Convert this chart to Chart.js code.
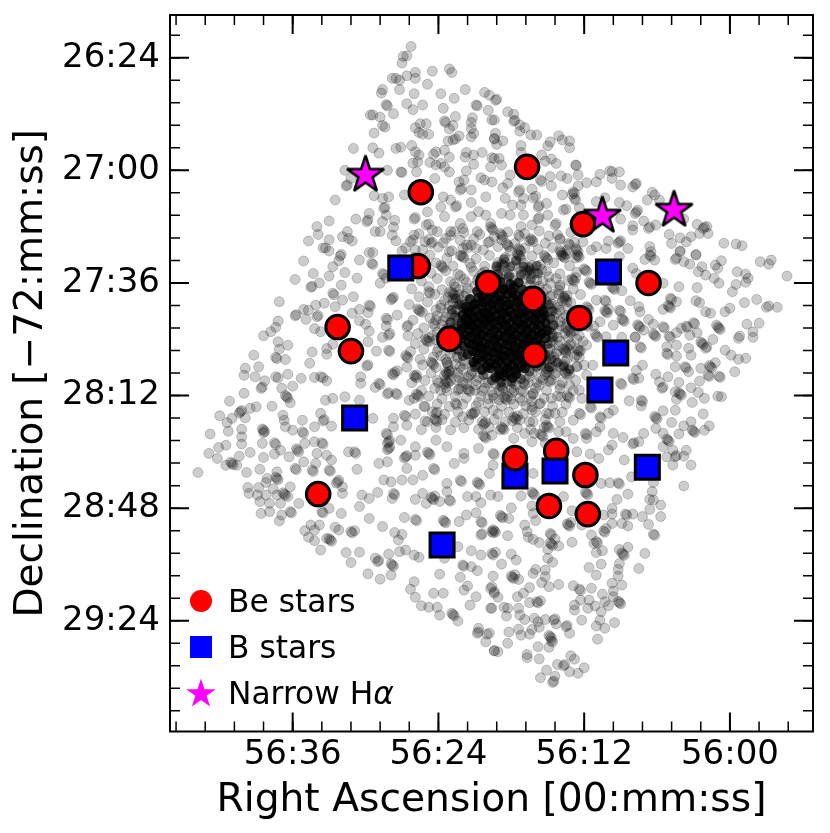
<!DOCTYPE html>
<html>
<head>
<meta charset="utf-8">
<title>Be stars</title>
<script src="https://cdn.jsdelivr.net/npm/chart.js@4/dist/chart.umd.min.js"></script>
<style>
    body { margin: 0; background: #ffffff; }
    canvas { display: block; }
</style>
</head>
<body>
<canvas id="chart" width="830" height="833"></canvas>
<script>
// x = RA seconds past 00:56:00, y = Dec seconds past -72:26:00

const xTicks = [36, 24, 12, 0];
const xTickLabels = ["56:36", "56:24", "56:12", "56:00"];
const yTicks = [24, 60, 96, 132, 168, 204];
const yTickLabels = ["26:24", "27:00", "27:36", "28:12", "28:48", "29:24"];

const beStars = [[16.7,58.9],[25.45,67],[12.1,77.2],[25.7,90.6],[19.9,96],[6.7,96],[16.2,101.1],[12.4,107.2],[32.3,110.1],[23.1,113.9],[31.2,117.8],[16.1,119],[14.3,149.7],[11.9,157.4],[33.9,163.5],[14.9,167.3],[11.7,169.9]];
const beStarsOver = [[17.7,152]];
const bStars = [[27.1,91.2],[10,92.5],[9.4,118.4],[10.7,130.2],[30.9,139.2],[6.8,154.9],[14.4,156.1],[17.7,157.7],[23.7,179.8]];
const narrowStars = [[30,61.5],[10.5,74.6],[4.6,72.7]];

const fieldNW = [[26.25,20.4],[26.6,23.4],[26.9,23.6],[27,25.7],[24.5,28.3],[23.1,27.6],[22.9,28.7],[25.9,28.7],[26.6,29.8],[25.9,30.6],[27.8,30.6],[27.5,30.6],[27.2,31.2],[24.9,32.5],[21.8,34.2],[28.6,34.2],[28.7,35.3],[27.2,34.2],[26,35.5],[23.8,35.5],[22.7,37],[20.2,35.1],[19.8,36],[28.3,39],[28.2,39.4],[26.6,38.7],[25.3,39.1],[26.1,40.6],[23.6,40.2],[20.9,39.1],[20.8,39.4],[19.9,40.8],[27.7,41.9],[29.6,42.3],[29.4,42.3],[28.8,43],[22.6,42.8],[21.2,43.2],[21.3,44.7],[23.5,44.2],[23.4,44.7],[25,45.1],[25.5,45.1],[25.9,46.4],[28.4,46.2],[28.6,45.7],[22.8,45.7],[23.1,46.8],[21.3,46.6],[29.3,48.1],[25.6,47.9],[25.3,48.5],[24.8,48.5],[22.3,49],[21.3,49.3],[22.8,50.3],[23.2,50.6],[22.6,50],[21.1,48.2],[26.2,52.1],[31,53],[29.4,52.8],[27.5,53],[27.1,52.6],[28.9,54.5],[25.9,54.1],[25.6,55.1],[24.2,54.1],[23.5,53.6],[24.4,54.9],[21.7,54.3],[21.1,55.1],[20.4,54.3],[21.8,55.8],[23.1,55.8],[25.7,57.3],[26.1,57.7],[24.7,57.5],[24.2,58.3],[23.8,57.8],[23.5,58.9],[21.1,58.1],[27.1,60.5],[27,60.7],[31.7,60],[28.2,60],[25.8,60.5],[23.1,60.5],[21.7,60.2],[31.2,62.6],[31.6,65],[31.5,64.7],[24.3,62.6],[20.5,62.4],[20.2,63.1],[22.3,63.7],[21.9,63.1],[22.2,66.3],[22.1,65.8],[21.3,66.3],[32.5,69.5],[29.3,68.1],[28.6,69],[28.1,68.5],[26.8,67.9],[23.6,68.5],[23,69.5],[21.3,70.3],[22.6,71.7],[22.5,71.3],[20.1,68.5],[24.9,73.3],[23.8,71.7],[28.5,72.2],[28.4,71.8],[28.3,74.3],[29.7,73.8],[30.8,75.6],[29.9,76.4],[29.8,75.9],[33,76.2],[34,78],[33.9,80.5],[34.7,82.6],[33,82.2],[31.5,79.6],[31.9,81.2],[31.4,81.8],[31.1,82.6],[27.6,76],[27.7,78.2],[28.6,76.4],[29.2,79.6],[28.8,79.6],[27.8,80.7],[27.5,82.6],[26,75.6],[25.9,75.1],[25,77.5],[24.8,77.2],[24.5,79.1],[23.5,74.8],[22,78.6],[22.2,77],[26,80.7],[26.1,82.3],[24.6,83.4],[24.5,83],[25.1,82.8],[23.4,81.8],[23,79.6],[22.7,79.6],[21.3,74.8],[20.7,73.2],[20.1,74.3],[19.7,77],[20.8,79.6],[19.8,82.8],[21.7,83.9],[33.5,84.8],[33.3,84.8],[33,85.8],[32,86.9],[29.7,86.3],[29.4,86.3],[26.7,84.8],[27,85.8],[25.9,85.5],[23.1,86],[22,85],[21.3,83.9],[20.9,85],[19.6,43.9],[19.4,49.8],[19.6,56]];

const fieldNE = [[19.3,37.6],[19.2,37.3],[18.3,41.3],[17.8,42.1],[19.4,43.9],[17.8,44.3],[17.7,44],[17.3,45.5],[16.9,46.4],[17.3,47.5],[19.3,48.2],[16.4,48.7],[15.9,48.7],[19.4,50],[18.7,50.6],[19.2,51.7],[14.1,49],[13.8,50.3],[13.2,50.6],[14.8,50.9],[15,52.2],[13.2,52.8],[17.2,52.1],[15.5,55.1],[17.2,54.3],[19.4,56.2],[19,56.2],[18.8,58.3],[19.7,58.9],[15.2,57.1],[14.7,56.4],[14.3,57.8],[12.7,58.3],[12.65,58.5],[12.5,61.5],[11.8,64],[10.7,61.3],[11,63.7],[9.9,60.2],[9.7,60.4],[9.1,60.5],[9.7,62.6],[9,64.7],[7.8,64.5],[7.7,64.2],[8,65.3],[18.1,61.5],[18.3,64.2],[18.7,65.6],[19.6,63.7],[15.6,63.1],[15.5,63.6],[14.8,62],[14.7,65],[13.9,61.8],[13.4,62.6],[17.4,66.9],[17.3,66.3],[16.3,66],[16.2,68.8],[16,68.3],[17,69],[18.5,69],[13.8,67.9],[12.9,66.9],[12.8,67.4],[13,67.7],[12.8,69],[12.7,69.5],[12.5,65],[6.4,67],[6.2,67.9],[5.8,69.5],[6.8,69.5],[10.3,68.8],[11,70],[9.1,70.3],[8.5,71.3],[7.7,73.3],[7.6,72.8],[7.8,73.8],[12.4,72],[13.7,72.7],[13.5,72.4],[15.1,70.6],[15.8,71.7],[15.7,71.3],[17.2,71.1],[17.9,71.1],[18.8,73.8],[18.1,74.3],[17,74.3],[15.8,75.6],[15.7,75.1],[15,74.3],[9,75.6],[7.1,76.2],[8,77.7],[8,79.1],[6.7,78.6],[6.6,78.1],[6.1,77.5],[3.8,75.6],[2.7,77.3],[2.2,78.6],[2.1,78.2],[1.9,78],[1.8,80.2],[2.5,80.2],[5,80.5],[4.1,81.6],[4.8,83.4],[3.6,82.9],[3.2,81.2],[0.5,83.3],[-0.5,83.6],[-1,84.1],[6.6,84.4],[6.5,86],[4.1,85.8],[2.8,86.9],[9.1,82.9],[9,82.5],[9.2,83.3],[8.4,85],[10,82.6],[10.2,85],[11,84.4],[11.4,85.5],[12.1,82.9],[14.9,81],[16.3,82.3],[16.2,82.8],[16.4,81.9],[18.8,80.7],[18.7,81.2],[18.9,80.2],[17.4,80.7],[17.3,81.2],[18.3,83.9],[18.2,84.4],[18.4,83.4],[17.3,85.5],[17.2,85.9],[17.4,85],[13.3,83.4],[13.2,83.8],[14,81.8],[14.4,77.5],[14.3,77],[16.3,77.5],[17.2,78],[19.6,78.6],[19.5,79.1],[19.7,78.1],[13.9,86],[13.8,86.5],[14,85.6],[12.6,85.5],[12.5,86],[12.7,85]];

const fieldW = [[35.1,89],[34.3,93],[35.8,94.9],[32.1,87.4],[32.2,88.9],[32.7,90.8],[31.7,92.7],[33,93.8],[33.8,96],[34.5,97.4],[34.4,97.1],[32,96.7],[30.5,88.7],[30.7,94.5],[32.7,99.3],[32.6,99.8],[31.9,101.5],[31,100.4],[37.1,102],[34.1,103.1],[33.4,102.5],[32.5,103.6],[35.1,104.5],[34.7,104.7],[35.8,106.5],[35.7,106.2],[34.9,107.7],[34,106.8],[33.9,106.4],[37.2,108.2],[37.4,110.2],[37.8,111.6],[38.4,112.9],[34.2,110.6],[33.7,111.6],[37.2,114.8],[36.4,115.9],[37.1,117.2],[39.2,119.1],[37.4,119.8],[37.3,120.2],[36.6,120.5],[34.4,118.1],[33.2,117],[33.2,118.8],[32.7,115.6],[34.6,121.7],[38.8,122.8],[39.9,123.3],[40,125.5],[39.1,126],[37.4,126],[37.2,126.4],[36.4,125.2],[35.3,126.5],[34.2,126.2],[33.7,126],[33.5,126.3],[33.2,127.3],[38.3,127.3],[38.6,129.7],[38.5,129.3],[36.9,129.7],[36,129],[40,131.3],[41.2,133.8],[36.5,132.4],[36.4,132.8],[36.6,132],[36.2,134.3],[37.7,135.4],[33.3,133.5],[32.7,132.9],[31.7,132.4],[30.5,133.5],[39,135.6],[39.5,136.1],[40.3,137.2],[40.2,136.8],[40.4,137.6],[39.9,139.1],[42,138.5],[41,139.3],[41.4,140.7],[41.3,143.4],[42.8,144.3],[36.8,138.3],[36.7,139.9],[36.6,142],[35.2,139.9],[33.7,137.7],[33.5,140.1],[33.4,139.7],[34.2,142],[32.8,141.8],[38.4,143.1],[38.3,143.5],[38.5,142.7],[38.4,143.9],[40.2,142.8],[40.2,145.2],[38.5,147.3],[37.5,147.1],[37.4,147.6],[41.5,147.9],[40.2,147.5],[42.1,148.6],[42.9,150.5],[42.2,152.1],[40.4,151.4],[39.5,150.2],[38.4,151.8],[37,149.5],[37.5,150.7],[36.3,151.6],[35.6,149.5],[35.5,150],[35.7,149],[36,143.1],[35.2,143.6],[35.1,144.1],[34.2,146.8],[33.6,147.1],[33.5,147.6],[35,147.3],[34,150.5],[35.1,153.2],[35.8,155.3],[35.7,155.7],[34.4,155.8],[34.3,156.3],[34.1,153.7],[33.2,151.1],[32.8,152.6],[33,155.8],[32.9,156.2],[30.7,155.6],[31.4,150],[30.9,150],[30.8,150.5],[32.3,159.6],[32.2,159.1],[32.4,160],[31.9,161.2],[43.8,156.6],[41.5,154.3],[41,153.7],[40.9,154.1],[41.1,153.3],[40.6,154.3],[39.8,156.6],[38.7,155.6],[37.3,156.4],[37.3,158.5],[37.2,158.9],[37.4,158.1],[38.1,158.5],[38.2,159.8],[39.7,161.4],[38.8,161.4],[37.6,161.8],[36.2,161.2]];

const fieldMidW = [[30.5,104.5],[29.7,103.1],[29.6,103.5],[29.8,105.5],[31.1,105.7],[30.5,108.1],[30,109.2],[29.7,111.4],[29.8,114.8],[29.1,117.8],[28.1,117.5],[28,117.9],[28.6,113.4],[28.1,112.7],[28,112.2],[28.3,107.3],[28.2,107.8],[28.3,109.8],[27.4,106.3],[27.8,101],[27.7,100.6],[27.9,101.4],[28.6,93],[28.5,93.4],[29.5,89.7],[29.4,90.1],[28.8,96.1],[28.3,94.5],[29.9,122.6],[29.8,122.2],[30.4,126],[30.4,128.1],[29.2,129.4],[28.9,128.1],[28.8,128.5],[27.8,125],[27.7,125.4],[27.6,124.6],[27.4,124.1],[28.2,131.5],[28.1,131.1],[27.5,131.3],[27.4,131.7],[29.4,139.3],[28.3,144.1],[28.2,144.5],[28.1,146.8],[28,146.4],[28.2,147.2],[28.1,148.9],[28,148.5],[28.2,149.3],[27.1,146.3],[25.9,148.4],[26.7,151.6],[26.6,151.2],[26.8,152],[27.7,139.3],[27.7,142],[26.6,141.5],[26.8,138.3],[26.7,138.7],[26.4,133.5],[25.7,131.9],[25.6,132.3],[25.8,131.5],[25.1,135.6],[25.1,140.1],[24.2,139.9],[24.1,140.3],[24.3,139.5],[24.2,137.7],[24.1,137.3],[25.9,126],[25.8,126.4],[26,125.6],[24.5,121.7],[24.4,122.1],[24.6,121.3],[23.3,124.9],[23.2,125.3],[23.4,124.5],[23.1,124.2],[23.3,127.6],[23.2,128],[23.4,127.2],[23.5,128.4],[20.9,122.3],[20.8,122.7],[21,121.9],[21.2,122.5],[21.5,130.3],[21.4,130.7],[21.6,129.9],[22.4,130.3],[22.3,129.9],[21.1,137.7],[21,137.3],[21.2,138.1],[20.2,140.9],[20.1,140.5],[20.3,141.3],[22,138.8],[22.6,134.5],[22.5,134.9],[25,114.3],[24.9,114.7],[25.1,113.9],[24.8,113.5],[26.6,119.6],[26.5,120],[26.7,119.2],[26.6,110],[26.5,109.6],[25.6,104.7],[25.5,105.1],[25.7,104.3],[23.7,90.8],[23.6,91.2],[23.8,90.4],[22,87.6],[21.9,88],[22.1,87.2],[24.8,98.8],[24.7,99.2],[22.8,99.4],[22.7,99.8],[22.9,99],[24.2,107.9],[22,103.6],[21.9,104],[22.1,103.2],[21.8,102.9],[21.2,108.9],[21.1,109.3],[21.3,108.5],[21,108.1],[21.4,109.6],[19.8,106.8],[19.7,107.2],[19.9,106.4],[20,107.6],[20.2,106],[19.6,105.7],[24.2,146.3],[23.3,148.4],[21.9,150.5],[20.7,148.9],[20.2,145.2],[20.1,145.6],[20.3,144.8],[24.8,150.5],[24.7,150.9],[24.9,150.1],[24.4,155.3],[24.3,155.7],[25.9,151.1],[26.6,155.3],[28.9,153.7],[28.2,153.2],[28.5,159],[27.9,159.6],[27,159],[26.1,159],[25.3,157.5],[23.3,160.1],[22.2,159.1],[22.1,159.5],[20.7,160.1],[20.6,160.5],[20.8,159.7],[19.8,156.9],[22.7,153.7],[21.9,152.1],[23.3,121.5],[23.1,124.5],[22.5,127],[23.4,129.5],[21.8,122],[21.6,126.4],[24.1,127.2],[23.8,130.3]];

const fieldE = [[11.9,91.9],[11.8,92.3],[12,91.5],[9.1,87.6],[6.6,87.1],[6.5,87.5],[6.2,88.7],[7,88.5],[4.5,88.5],[4.4,88.1],[3.8,89.2],[3.3,90],[2.8,87.1],[4.1,86],[8,91.3],[7.7,93],[2.3,90.8],[2.6,92.4],[2,93.5],[1.2,90.3],[1,91.3],[0.7,88.9],[1.3,94.5],[0.9,96.1],[-0.6,92.4],[-1.3,93.2],[-1.5,94.5],[-1.3,95.8],[-0.5,96.5],[-0.2,98.8],[-2.5,89.2],[-3.2,90],[-3.4,88.7],[-4.7,93.8],[4.2,97.2],[2.7,97.5],[5.5,96.1],[9.6,97.7],[9.5,98.1],[9.7,97.3],[8.9,98.5],[4.9,100.9],[4.8,101.3],[5,103.6],[4.9,104],[5.1,103.2],[4.4,102],[5.5,104.5],[8.2,101.7],[7.5,103.6],[7.4,105.2],[2.8,101.7],[2.5,102.3],[-1.2,102.3],[-2.2,101.3],[-3,103.8],[-3.2,103.4],[-3.9,103.8],[0,104.1],[0.4,105.2],[2,105.2],[1.6,105.7],[-1.4,109.2],[-2.4,108.9],[-1.9,111.6],[-1.9,113.4],[-0.8,113],[-0.7,113.7],[0.9,110.5],[0.8,110.9],[1,110.1],[1.1,109.5],[1.4,114.1],[3,108.7],[2.9,109.1],[3.6,109.8],[3.5,110.2],[4,110.5],[2.7,111.9],[3.3,112.7],[4.4,111.9],[5,113],[4.9,113.4],[6.7,107.7],[6.3,109.2],[5.5,110],[5.4,110.4],[7.5,109.8],[7.4,110.2],[7.6,109.4],[7.1,111.1],[6.2,112.7],[6.1,113.1],[6.3,112.3],[7.8,113.4],[2.3,115.3],[2.2,115.7],[2.4,114.9],[2,116.9],[1.9,116.5],[5.2,116.4],[4.4,115.9],[3.4,116.9],[0.4,117.5],[-0.1,119.1],[-0.7,120.4],[-1.3,120.1],[5.2,118.5],[5.1,118.9],[4.4,119.4],[3.2,119.1],[7.4,116.4],[7.3,116.8],[1.2,121.5],[1.6,122.8],[1.5,123.2],[1.7,122.4],[2.4,123.3],[4.5,122.8],[3.7,122.8],[3.6,123.2],[3.4,124.4],[1.8,125.5],[1.7,125.9],[0.9,125.8],[0.8,126.2],[-0.4,124.4],[7.2,122.3],[7.7,123.9],[8,126.5],[7.9,126.9],[7.5,126.5],[6.1,125.2],[5.1,126],[5.8,127.6],[5.6,129.7],[5.5,129.3],[4.2,127.8],[2.5,127.4],[3.2,129.5],[2.6,131],[2.1,132.9],[4.5,130.8],[4.1,131.5],[4,131.9],[4.2,131.1],[4.4,133.2],[1,132.2],[0.7,132.4],[3.1,134.2],[8.3,133.7],[7.3,133.5],[7.2,133.9],[7.3,135.3],[9,128.1],[8.9,128.5],[4.5,136.7],[5.5,136.9],[6.1,139.1],[6,139.5],[6.2,138.7],[2.2,137.9],[4.8,140.6],[6.1,142.5],[3.2,140.4],[3.8,141.7],[3,143.4],[2.9,143.8],[3.1,143],[2.1,143.1],[1.7,141.7],[4.2,144.3],[5.5,144.1],[5.1,146.3],[5,146.7],[5.2,145.9],[5.5,148.4],[7.1,144.1],[7.5,146.8],[8,147.5],[7.9,147.1],[8.8,145.4],[9.6,144.1],[9.7,147.8],[10,149.4],[3.6,149.5],[4.7,149.5],[4.5,151.6],[4.4,151.2],[5.2,151.6],[3.8,151.4],[3.2,154.2],[4.7,154.2],[8.7,152.6],[11.5,150.7],[10.8,152.1],[12.6,150],[3.8,160.9],[8.1,158],[9.9,159.9],[9.2,159.9],[9.1,160.3],[6.3,159.8],[10.6,160.1]];

const fieldMidE = [[11,143.6],[10.7,142],[9.6,136.7],[10.7,138.8],[10.6,139.2],[10,137.7],[11.5,135.6],[11.4,136],[12.4,137.7],[12.3,138.1],[12.9,139.9],[11.9,144.1],[11.8,144.5],[11.8,145.7],[12.9,145.7],[13.5,143.6],[14.1,143.6],[15,142],[14.9,142.4],[15.1,141.6],[14.4,137.7],[15.1,137.7],[13.3,132.4],[13.2,132.8],[13.4,132],[12.4,130.3],[12.2,132.9],[13.2,128.7],[14,128.7],[14.8,127.6],[15.4,127],[13.9,132.4],[14.7,132.9],[15.6,134.5],[16.3,136.7],[17.7,139.3],[17.6,139.7],[17.8,138.9],[17.5,138.5],[17.9,140.1],[16.5,140.4],[18.7,142.5],[18.6,142.9],[18.8,142.1],[16.9,144.1],[16.1,144.1],[15.5,144.7],[15.4,145.1],[15.6,144.3],[16.3,146.8],[15.2,147.3],[18.5,132.9],[18.4,133.3],[18.6,132.5],[17.8,130.3],[19.5,131.9],[16.3,135.6],[16.2,131.3],[18.8,129.2],[18.7,129.6],[18.9,128.8],[17,128.1],[16.9,128.5],[19.5,136.7],[19.6,144.7],[17.8,145.7],[19.5,150.5],[19.4,150.9],[19.5,154.3],[16.2,156.9],[13.5,124.9],[13.4,125.3],[13.6,124.5],[13.3,124.1],[15,123.9],[14.9,124.3],[15.1,123.5],[11.8,125.5],[12.6,122.8],[11.3,122.3],[13.6,117.5],[13.5,117.9],[13.7,117.1],[13.4,116.7],[12.5,117.5],[12.4,117.9],[12.6,117.1],[11.8,115.9],[12.6,119.1],[12,122.3],[13.2,111.6],[13.1,112],[13.3,111.2],[11,113],[10.9,113.4],[10.2,113.2],[8.9,113.4],[10.2,105.2],[10.1,105.6],[10.3,104.8],[10,104.4],[9.1,104.7],[9,105.1],[8.8,107.9],[8.7,108.3],[8.9,107.5],[7.8,113.2],[10.3,101.5],[10.2,101.9],[11,101.5],[11.8,103.6],[11.7,104],[13.6,100.9],[13.5,101.3],[13.7,100.5],[13.4,100.1],[13.8,101.7],[10.7,108.4],[11.8,109.5],[11.7,109.9],[9.6,109.5],[11.5,96.1],[11.4,96.5],[11.6,95.7],[12.9,95.1],[12.8,95.5],[13,94.7],[12.7,94.3],[14,96.7],[13.7,87.6],[13.6,88],[13.8,87.2],[13.5,86.8],[12.5,87.4],[12.4,87.8],[12.6,87],[15.2,87.6],[15.1,88],[15.3,87.2],[16.5,91.3],[16.4,91.7],[16.6,90.9],[16.3,90.5],[16.7,92.1],[18.7,90.3],[18.6,90.7],[18.8,89.9],[18.5,89.5],[18.9,91.1],[17.4,87.1],[17.3,87.5],[17.5,86.7],[17.2,88.2]];

const fieldSW = [[39.6,163.3],[38.9,163.8],[38.2,163.8],[38.7,165.9],[37.9,166.5],[38.6,169.7],[37.9,169.1],[37.1,172.1],[36.9,170.2],[36.2,169.1],[36.1,169.5],[37.3,163.8],[36.7,163.5],[36.6,163.9],[36.8,163.1],[37,166.5],[36.4,164.3],[35.5,166.5],[33.6,169.1],[33.5,169.5],[33,168.1],[32,169.7],[31.9,163.3],[30.5,167.5],[30.3,163.8],[29.7,164.9],[29,163],[29.7,171.3],[28.6,173.9],[27.7,163.3],[27.6,163.7],[27.8,164.9],[26.8,171],[25.9,171.6],[25.8,172],[25.9,165.2],[24.5,164.9],[24.4,165.3],[24.6,164.5],[24.3,164.1],[25,166.5],[23.9,165.9],[23.1,165.4],[23,165.8],[25.3,163.3],[23.3,162.7],[21.6,164.3],[20.9,164.3],[20.5,166.3],[19.7,163.8],[23.5,172.3],[23.4,172.7],[23.6,171.9],[22.3,172.3],[21.7,170.2],[20.9,169.5],[20.5,172.3],[20.4,172.7],[19.6,175.5],[19.5,175.9],[20.5,176.6],[20.4,176.2],[35,175.2],[34.5,173.4],[33.8,173.4],[34.2,175],[34.7,177.3],[34.2,178.4],[33.7,181.4],[33.2,177.7],[32.9,178.2],[32.8,178.6],[33,177.8],[32.5,174.1],[32.2,175],[31.2,175.5],[31.1,175.9],[30.9,175.2],[31.6,182.2],[30.5,182.1],[31.2,185.4],[29.8,189],[29.2,184],[29,185.1],[28.9,184.7],[28.8,190.7],[28.1,182.7],[27.8,186.2],[27.7,186.6],[27.9,185.8],[27.9,189.4],[27.2,181.9],[26.7,181.4],[27.6,175.8],[27,176.4],[27.3,178.2],[26,183],[25.6,183.7],[26,191.5],[26.3,193.9],[25.9,196.5],[25.4,199.2],[24.8,199.7],[24.1,199.7],[23.9,202.2],[24.4,195.2],[23.6,195.2],[22.8,202],[22.7,202.4],[22.9,201.6],[22.4,204.1],[23.9,189.1],[23.5,184],[22.4,180.3],[22,186.2],[21.9,186.6],[21.3,186.7],[20.8,188],[22.2,190.1],[21.6,192.9],[21.9,194.2],[20.9,196.3],[21.4,199],[19.7,193.7],[19.4,195.2],[19.7,200],[20.7,206.4],[20.8,208],[20.7,207.6],[20,208.3],[20.1,210.7],[19.4,213.6],[21.3,181.6],[20.5,183],[19.6,182.5]];

const fieldSE = [[19.1,164.3],[17.2,164.1],[16.2,163.3],[16.1,163.7],[16.3,162.9],[16.3,167.3],[18,167.9],[18.8,170.7],[18.7,171.1],[18.9,170.3],[18.2,171.3],[16.2,169.7],[16,172],[13.7,164.3],[13,168.8],[11.8,163.3],[11.7,163.7],[11.9,162.9],[13.3,173.4],[13.2,173.8],[13.4,173],[13.1,172.6],[12.2,173.4],[16.9,173.4],[16.7,175.5],[19.4,175.3],[19.3,175.7],[19.5,174.9],[18.3,176.8],[16.6,177.3],[16.2,178],[15.7,179],[14.8,176.1],[14.7,176.5],[14.4,177.9],[14.7,179.5],[14.6,179.9],[14.8,179.1],[14.1,180.1],[15,181.2],[13,178.9],[11.4,176.6],[11,178.7],[10.9,179.1],[11.2,179.3],[10.4,175.3],[10.3,175.7],[10.2,174.5],[10.5,181.6],[11,182.2],[9.7,172.9],[10.4,170.2],[9.7,168.1],[9.7,169.9],[9.3,165.2],[8.4,163.5],[8.9,172.9],[8.4,173.7],[8.6,169.9],[8.5,170.3],[8,169.9],[7.2,170.7],[6.7,173.2],[6.6,168.4],[6.6,165.2],[6.3,165.4],[5.7,167],[5.7,170.7],[6.4,162.7],[6.3,176.3],[6.2,176.7],[7,182.5],[8.4,180.5],[9.1,181.2],[8.8,182.7],[8.7,183.1],[8.9,182.3],[7.5,187.3],[9.1,185.7],[9.2,187.6],[9.2,189.7],[10.6,185.9],[11.6,187],[11,189.4],[9.7,192],[8.9,192.6],[11.4,193.6],[12.9,192.8],[12.4,193.9],[12.3,194.3],[14.1,192.4],[14.9,193.1],[15.5,191.8],[16.5,193.4],[9.6,194.5],[9.6,196.3],[10.5,195.5],[10.3,197.9],[9.1,198.2],[9,198.6],[9.2,197.8],[10,199.2],[12.3,197.4],[11.6,197.4],[11.1,199.3],[11.7,200],[12.8,199],[12.8,200.6],[10.6,201.1],[10.7,203.8],[12.2,203.8],[9.5,204.6],[11,205.7],[10.3,206.4],[10.9,209.9],[13.2,208],[13.5,205.9],[13.4,205.5],[14.3,205],[14.5,203.8],[14.4,203.4],[15.2,203.6],[15.8,204.3],[16.1,203.2],[15.7,206.1],[16.3,206.8],[16.5,208.3],[17.2,208.6],[17.4,206.7],[18.2,207.6],[18.3,211.2],[14.8,209.1],[14.7,209.5],[14.9,208.7],[14.7,210.4],[14.6,210.8],[14.9,212.5],[15.8,212.3],[19.1,213.9],[19.4,213.6],[16.7,214.8],[16.7,215.8],[15.7,216.2],[15.1,219.8],[15.6,222.2],[14.4,221.7],[14.6,223.7],[14.5,223.3],[14.2,218],[13.7,218.4],[13.6,218],[13.2,220.3],[12.5,220.8],[12,219],[13.1,215.2],[12.8,216.3],[16.5,198.2],[15.9,197.9],[15.8,198.3],[15.6,197.6],[17.4,200],[18.6,199.7],[18.3,200],[18.4,202.5],[19.6,200],[17.3,202.2],[16.9,203.6],[17.5,196.3],[17,195.2],[19.1,196.5],[19.4,194.7],[19.6,193.1],[17.9,190.1],[17.8,190.5],[18,189.7],[17.7,189.3],[17.4,190.8],[16,187.6],[16.2,188.9],[15.2,187.8],[15.2,189.9],[19.5,189.7],[18.8,185.9],[18,182.7],[17.6,184.6],[19.3,182.1],[19.5,183],[15,184],[14.6,185.3],[19.8,208]];

const fieldRing = [[25.6,80.3],[24.1,79.6],[23,80.8],[21.9,79.9],[20.6,80.5],[19.4,81.2],[18.3,79.7],[16.9,80.2],[15.7,79.4],[14.2,80.6],[13.1,79.8],
[26.3,82.8],[24.8,82.1],[23.6,83.2],[22.2,82.4],[21.1,81.9],[19.9,83.1],[18.8,82.2],[17.7,83.4],[16.5,82.6],[15.2,83.3],[14,82.2],[12.8,83],
[25.3,85.4],[24,84.6],[22.9,85.7],[21.6,84.8],[20.3,85.5],[19.1,84.4],[18.1,85.8],[16.9,84.9],[15.8,85.3],[14.6,84.7],[13.4,85.6],
[26,87.9],[24.7,87.1],[23.3,88.1],[22.2,87.3],[20.9,88.3],[19.8,87.2],[18.5,87.9],[17.6,88.4],[16.3,87.4],[15,88.6],[13.9,87.2],[12.7,88],
[25,90.4],[24.2,89.6],[22.8,90.6],[21.4,89.8],[20.2,90.7],[19.1,89.5],[17.9,90.6],[17,89.7],[15.6,90.3],[14.5,89.6],[13.2,90.5],
[24.6,92.9],[23.4,92.1],[22.4,93.2],[21.1,92.3],[20.4,93],[19.3,92.2],[18.2,93.3],[17.2,92.4],[16.1,93],[15.1,92.2],[14,93.1],[12.6,92.6],
[25.4,95.4],[24.1,94.6],[23,95.6],[21.9,94.8],[20.8,95.3],[18.9,94.7],[17.7,95.3],[16.8,94.8],[15.4,95.5],[14.3,94.6],[13.3,95.2],
[26.2,97.9],[24.8,97.2],[23.7,98.2],[22.6,97.3],[21.6,97.8],[16.1,97.2],[15.1,98],[14,97.3],[12.9,97.9],
[25.6,100.4],[24.3,99.6],[23.2,100.6],[22.3,99.8],[15.5,100.3],[14.6,99.7],[13.6,100.2],[12.3,99.7],
[26.4,102.9],[24.9,102.1],[23.8,103.1],[22.8,102.4],[22,102.9],[15.1,102.2],[14.2,103],[13.1,102.3],
[25.3,105.4],[24.2,104.6],[23.3,105.6],[22.5,104.8],[14.9,105.3],[14,104.7],[12.9,105.4],[11.6,104.7],
[26.1,107.9],[24.7,107.2],[23.6,108.1],[22.7,107.3],[14.6,107.8],[13.7,107.2],[11.8,107.8],
[25.2,110.4],[24.3,109.7],[23.2,110.5],[22.6,109.8],[14.8,110.3],[13.9,109.7],[13.1,110.4],[11.2,109.8],
[26.5,112.9],[25.7,112.2],[24.5,112.8],[23.4,112.1],[14.5,112.9],[13.6,112.2],[12.4,112.8],[11.1,112.3],
[25.9,115.4],[24.7,114.7],[23.7,115.5],[22.8,114.8],[14.8,115.2],[14,114.6],[13.1,115.4],[12.1,114.7],
[26.3,117.9],[25.2,117.2],[24.1,118],[23,117.2],[22.2,117.8],[15,117.3],[14.2,117.8],[13.3,117.2],[12.3,117.7],
[25.5,120.4],[24.4,119.7],[23.4,120.5],[22.5,119.8],[15.2,120.3],[14.5,119.7],[13.4,120.4],[12.4,119.8],
[26.6,122.9],[25.3,122.2],[24.2,123],[23.2,122.3],[22.2,122.8],[15.6,122.3],[14.6,122.9],[13.7,122.2],[12.6,122.7],
[25.8,125.4],[24.6,124.7],[23.5,125.5],[22.4,124.8],[21.3,125.3],[16.3,124.7],[15.2,125.4],[14.3,124.7],[13.2,125.2],
[26.2,127.9],[25.1,127.2],[24,128],[23,127.3],[22,127.8],[20.9,127.2],[19.9,127.9],[18.9,127.3],[17.9,127.8],[16.9,127.2],[15.9,127.9],[14.9,127.3],[13.8,127.8],[12.7,127.2],
[25.4,130.4],[24.3,129.7],[23.3,130.5],[22.1,129.8],[21,130.3],[20.2,129.7],[19,130.4],[18,129.8],[17.2,130.4],[16,129.7],[15.1,130.3],[14,129.8],[12.9,130.4],
[26,132.9],[24.8,132.2],[23.7,133],[22.6,132.3],[21.7,132.8],[20.5,132.2],[19.4,132.9],[18.3,132.3],[17.3,132.8],[16.4,132.2],[15.3,132.9],[14.2,132.2],
[25.2,135.4],[24.1,134.7],[23.1,135.5],[22,134.8],[20.9,135.3],[19.9,134.7],[18.8,135.4],[17.8,134.8],[16.8,135.3],[15.7,134.7],[14.6,135.4],[13.5,134.8],
[25.9,137.9],[24.5,137.2],[23.5,138],[22.4,137.3],[21.3,137.8],[20.2,137.2],[19.1,137.9],[18.2,137.3],[17,137.8],[16,137.2],[14.9,137.9],[13.8,137.3],
[24.9,140.4],[23.7,139.7],[22.6,140.5],[21.5,139.8],[20.4,140.3],[19.4,139.7],[18.5,140.4],[17.3,139.8],[16.2,140.3],[15.2,139.7],[14,140.4],
[25.4,142.9],[24.2,142.2],[23,143],[21.9,142.3],[20.7,142.8],[19.8,142.2],[18.9,142.9],[17.5,142.3],[16.4,142.8],[15.3,142.2]];

const fieldHalo = [[21.3,91],[20.2,92.4],[19.2,90.5],[18.4,93.6],[17.4,91.4],[16.4,93.2],[15.5,91.7],[22.2,93.7],[20.7,94.5],[19.6,94.9],[18.7,93.2],[17.9,94.4],[16.9,93.3],[15.9,95.1],[14.9,94],[22.7,96.3],[21.7,95.9],[21,97.1],[20.3,96.3],[16.5,96.7],[15.7,97.1],[14.8,96.2],[14.1,98.3],[23.1,99],[22.3,98.2],[21.7,99.4],[15.4,99],[14.8,100.2],[14.1,99.6],[13.4,102],[23.5,101.6],[22.8,100.9],[22.2,101.4],[21.9,100.2],[15.2,101.6],[14.7,102.7],[14.1,103.7],[13.3,104.4],[23.8,104],[23.1,103.4],[22.5,104.2],[14.8,104.1],[14.3,105.6],[13.5,106.4],[12.7,106.7],[24.1,106.5],[23.4,106.9],[22.9,106],[22.4,107.2],[14.5,106.9],[14,108.4],[13.4,108.9],[12.6,109.2],[24.4,109],[23.7,109.4],[23,108.9],[22.6,111],[14.6,109.4],[14.1,110.9],[13.5,110.3],[12.8,111.3],[24.1,111.8],[23.4,111],[22.9,112.4],[14.7,112.2],[14.2,113.4],[13.3,113.6],[12.6,114],[24.2,114.2],[23.6,113.7],[23,114.8],[22.4,114],[14.6,114.7],[14.1,116],[13.2,115.9],[24,116.9],[23.2,116.2],[22.6,116.9],[14.8,117.1],[14.3,118.6],[13.5,118.4],[12.8,119.6],[23.8,119.3],[23,118.6],[22.4,119.7],[14.9,119.2],[14.4,120.9],[13.6,121.1],[23.3,121.4],[22.6,122],[21.9,120.9],[15.3,121.4],[14.8,122.8],[14,122.8],[22.9,124],[22,123.6],[21.2,124.2],[15.8,123.2],[15.1,124.6],[14.4,125.3],[22.3,126.2],[21.5,125.8],[20.7,126.2],[20,125.1],[17.2,125.2],[16.5,125.9],[15.6,126.4],[14.7,127],[21.7,128.3],[20.9,128.6],[20.1,127.9],[19.3,128.4],[18.4,127.8],[17.6,128.6],[16.6,127.9],[15.7,128.7],[20.4,130.5],[19.6,130.8],[18.7,130.4],[17.9,131],[17,130.7],[16.2,131.6],[19.9,133],[19,133.4],[18,133.2],[17.1,133.7],[20.7,134.2],[16.3,133.9]];

const fieldCore = [[19.7,96.2],[18.9,95.6],[18.1,96.4],[17.4,95.9],
[20.8,98.7],[20.1,98.2],[19.4,98.9],[18.6,98.3],[17.9,98.8],[17.1,98.1],[16.5,98.6],
[21.4,101.2],[20.7,100.8],[20,101.4],[19.3,100.9],[18.7,101.3],[17.9,100.7],[17.2,101.1],[16.6,100.8],[15.9,101.3],
[21.7,103.8],[21.1,103.2],[20.4,103.6],[19.7,103.3],[19,103.9],[18.3,103.2],[17.6,103.7],[16.9,103.3],[16.2,103.8],[15.6,103.4],
[22,106.2],[21.4,105.7],[20.7,106.3],[20,105.8],[19.3,106.4],[18.6,105.7],[17.9,106.2],[17.2,105.8],[16.6,106.3],[15.9,105.8],[15.3,106.2],
[22.1,108.8],[21.5,108.3],[20.8,108.7],[20.1,108.2],[19.5,108.9],[18.8,108.3],[18.1,108.8],[17.4,108.4],[16.7,108.9],[16,108.3],[15.2,108.7],
[22.2,111.3],[21.5,110.8],[20.8,111.4],[20.2,110.9],[19.4,111.2],[18.7,110.7],[18,111.3],[17.3,110.8],[16.6,111.4],[15.9,110.9],[15.1,111.2],
[22.1,113.7],[21.4,113.2],[20.7,113.8],[20,113.3],[19.3,113.9],[18.6,113.2],[17.9,113.7],[17.2,113.3],[16.5,113.8],[15.8,113.2],[15.2,113.6],
[21.9,116.2],[21.2,115.7],[20.5,116.3],[19.8,115.8],[19.1,116.4],[18.4,115.8],[17.7,116.3],[17,115.7],[16.3,116.2],[15.6,115.8],
[21.6,118.8],[20.9,118.2],[20.2,118.7],[19.5,118.3],[18.8,118.9],[18.1,118.3],[17.4,118.8],[16.7,118.2],[16,118.7],
[21.1,121.3],[20.4,120.8],[19.7,121.4],[19,120.9],[18.3,121.2],[17.6,120.8],[16.9,121.3],[16.3,120.9],
[20.4,123.7],[19.7,123.2],[19,123.8],[18.3,123.3],[17.6,123.7],[16.9,123.2],
[19.3,126.2],[18.6,125.8],[17.9,126.3]];

const fieldCoreInner = [[19.4,97.5],[18.6,97.9],[17.8,97.3],
[20.4,100.2],[19.7,99.8],[19,100.3],[18.3,99.7],[17.6,100.1],[16.9,99.8],
[21,102.7],[20.3,102.2],[19.6,102.6],[18.9,102.3],[18.2,102.8],[17.5,102.2],[16.8,102.6],[16.1,102.3],
[21.6,105.2],[20.9,104.8],[20.2,105.3],[19.5,104.7],[18.8,105.1],[18.1,104.8],[17.4,105.3],[16.7,104.7],[16,105.1],[15.4,104.8],
[21.8,107.7],[21.1,107.2],[20.4,107.6],[19.7,107.3],[19,107.8],[18.3,107.2],[17.6,107.7],[16.9,107.3],[16.2,107.6],[15.5,107.2],
[21.9,110.2],[21.2,109.8],[20.5,110.3],[19.8,109.7],[19.1,110.1],[18.4,109.8],[17.7,110.3],[17,109.7],[16.3,110.2],[15.6,109.8],
[21.8,112.7],[21.1,112.2],[20.4,112.6],[19.7,112.3],[19,112.8],[18.3,112.2],[17.6,112.6],[16.9,112.3],[16.2,112.7],[15.5,112.2],
[21.5,115.2],[20.8,114.8],[20.1,115.3],[19.4,114.7],[18.7,115.1],[18,114.8],[17.3,115.3],[16.6,114.7],[15.9,115.2],
[21.2,117.7],[20.5,117.2],[19.8,117.6],[19.1,117.3],[18.4,117.8],[17.7,117.2],[17,117.6],[16.3,117.3],
[20.8,120.2],[20.1,119.8],[19.4,120.3],[18.7,119.7],[18,120.1],[17.3,119.8],[16.6,120.2],
[20,122.7],[19.3,122.2],[18.6,122.6],[17.9,122.3],[17.2,122.7],
[19,125.2],[18.3,124.8],[17.6,125.1]];

const coreFringe = [[19.2,90.8],[18.6,88.4],[18.1,90.8],[17.6,88.9],[17,90.8],[16.5,92],[15.9,90.5],[15.8,93],[19.1,93.2],[18.2,93.9],[17.2,93.4],[16.4,94.8],[20,93.8],
[22.6,101],[22.9,104.6],[23,108.6],[22.9,112.8],[22.3,103],[22.6,106.6],[22.6,110.4],[22.5,114.8],[22.4,117.4],[22,119.4],
[21,123],[20.3,125.4],[19.6,127.2],[18.8,127.8],[18,127.6],[17.2,126.8],[16.5,124.4],[15.9,122.8],[15.5,121],
[15.2,119],[14.7,120.4],[14.2,121.5],[13.7,122.7],[13.2,123.6],[14.9,123],
[14.9,103],[14.6,105],[14.8,107.4],[14.5,109.6],[14.9,111.2],[14.6,113.4],[15,115.6]];

const fontFamily = "'DejaVu Sans'";

const xMinorStep = 2.4;
const yMinorStep = 7.2;

function makeStar(outer, fill, edge) {
    const c = document.createElement("canvas");
    const size = Math.ceil(outer * 2 + 12);
    c.width = size;
    c.height = size;
    const g = c.getContext("2d");
    starPath(g, size / 2, size / 2, outer);
    g.fillStyle = fill;
    g.fill();
    g.lineWidth = 2.5;
    g.strokeStyle = edge;
    g.lineJoin = "miter";
    g.miterLimit = 2;
    g.stroke();
    return c;
}

function starPath(g, cx, cy, outer) {
    const inner = outer * 0.382;
    g.beginPath();
    for (let i = 0; i < 10; i++) {
        const r = i % 2 ? inner : outer;
        const a = -Math.PI / 2 + i * Math.PI / 5;
        const px = cx + r * Math.cos(a);
        const py = cy + r * Math.sin(a);
        if (i === 0) g.moveTo(px, py); else g.lineTo(px, py);
    }
    g.closePath();
}

function toPoints(list) {
    return list.map(p => ({ x: p[0], y: p[1] }));
}

const fieldStars = [].concat(fieldNW, fieldNE, fieldW, fieldMidW, fieldE, fieldMidE, fieldSW, fieldSE, fieldRing, fieldHalo);
const coreStars = [].concat(fieldCore, fieldCoreInner);

// ticks and frame, matplotlib style: inward on all four sides
const frame = {
    id: "frame",
    afterDatasetsDraw(chart) {
        const { ctx, chartArea: a, scales: { x, y } } = chart;
        ctx.save();
        ctx.strokeStyle = "#000";
        ctx.lineWidth = 2;
        ctx.strokeRect(a.left, a.top, a.right - a.left, a.bottom - a.top);

        function xTick(v, len, w) {
            const px = x.getPixelForValue(v);
            ctx.lineWidth = w;
            ctx.beginPath();
            ctx.moveTo(px, a.bottom); ctx.lineTo(px, a.bottom - len);
            ctx.moveTo(px, a.top); ctx.lineTo(px, a.top + len);
            ctx.stroke();
        }
        function yTick(v, len, w) {
            const py = y.getPixelForValue(v);
            ctx.lineWidth = w;
            ctx.beginPath();
            ctx.moveTo(a.left, py); ctx.lineTo(a.left + len, py);
            ctx.moveTo(a.right, py); ctx.lineTo(a.right - len, py);
            ctx.stroke();
        }

        for (let v = xTicks[0]; v <= x.max; v += xMinorStep) xTick(v, 10, 1.5);
        for (let v = xTicks[0]; v >= x.min; v -= xMinorStep) xTick(v, 10, 1.5);
        for (let v = yTicks[0]; v >= y.min; v -= yMinorStep) yTick(v, 10, 1.5);
        for (let v = yTicks[0]; v <= y.max; v += yMinorStep) yTick(v, 10, 1.5);
        xTicks.forEach(v => xTick(v, 19, 2));
        yTicks.forEach(v => yTick(v, 19, 2));
        ctx.restore();
    }
};

// legend sits inside the axes, lower left, with no edge on the markers
const starLegend = {
    id: "starLegend",
    afterDraw(chart) {
        const { ctx, chartArea: a } = chart;
        const mx = a.left + 31;
        const tx = a.left + 58;
        ctx.save();
        ctx.fillStyle = "#ff0000";
        ctx.beginPath();
        ctx.arc(mx, a.bottom - 130.5, 11, 0, Math.PI * 2);
        ctx.fill();
        ctx.fillStyle = "#0000ff";
        ctx.fillRect(mx - 11, a.bottom - 95.5, 22, 22);
        ctx.fillStyle = "#ff00ff";
        starPath(ctx, mx, a.bottom - 37.5, 15.5);
        ctx.fill();

        ctx.fillStyle = "#000";
        ctx.textBaseline = "alphabetic";
        ctx.textAlign = "left";
        ctx.font = "31.3px " + fontFamily;
        ctx.fillText("Be stars", tx, a.bottom - 120);
        ctx.fillText("B stars", tx, a.bottom - 74);
        ctx.fillText("Narrow H", tx, a.bottom - 28);
        const w = ctx.measureText("Narrow H").width;
        ctx.font = "italic 31.3px " + fontFamily;
        ctx.fillText("α", tx + w, a.bottom - 28);
        ctx.restore();
    }
};

new Chart(document.getElementById("chart"), {
    type: "scatter",
    data: {
        datasets: [
            {
                label: "Be stars",
                data: toPoints(beStarsOver),
                pointStyle: "circle",
                pointRadius: 11.8,
                backgroundColor: "#ff0000",
                borderColor: "#000",
                borderWidth: 3
            },
            {
                label: "B stars",
                data: toPoints(bStars),
                pointStyle: "rect",
                pointRadius: 17,
                backgroundColor: "#0000ff",
                borderColor: "#000",
                borderWidth: 3
            },
            {
                label: "Be stars",
                data: toPoints(beStars),
                pointStyle: "circle",
                pointRadius: 11.8,
                backgroundColor: "#ff0000",
                borderColor: "#000",
                borderWidth: 3
            },
            {
                label: "Narrow Hα",
                data: toPoints(narrowStars),
                pointStyle: makeStar(19.5, "#ff00ff", "#000")
            },
            {
                label: "Core",
                data: toPoints(coreStars),
                pointRadius: 5.2,
                backgroundColor: "rgba(0,0,0,0.82)",
                borderWidth: 0
            },
            {
                label: "Fringe",
                data: toPoints(coreFringe),
                pointRadius: 5,
                backgroundColor: "rgba(0,0,0,0.5)",
                borderWidth: 0
            },
            {
                label: "Field",
                data: toPoints(fieldStars),
                pointRadius: 5,
                backgroundColor: "rgba(0,0,0,0.2)",
                borderColor: "rgba(0,0,0,0.2)",
                borderWidth: 1
            }
        ]
    },
    plugins: [frame, starLegend],
    options: {
        responsive: false,
        animation: false,
        events: [],
        layout: {
            autoPadding: false,
            padding: { top: 15, right: 17, left: 0, bottom: 0 }
        },
        plugins: {
            legend: { display: false },
            tooltip: { enabled: false }
        },
        scales: {
            x: {
                type: "linear",
                reverse: true,
                min: -6.84,
                max: 46.1,
                afterBuildTicks(s) {
                    s.ticks = xTicks.map(v => ({ value: v }));
                },
                beforeFit(s) {
                    s._calculatePadding = () => {};
                },
                afterFit(s) {
                    s.height = 101.5;
                },
                grid: { display: false, drawTicks: false },
                border: { display: false },
                ticks: {
                    autoSkip: false,
                    maxRotation: 0,
                    padding: 3,
                    color: "#000",
                    font: { family: fontFamily, size: 34 },
                    callback: v => xTickLabels[xTicks.indexOf(v)]
                },
                title: {
                    display: true,
                    text: "Right Ascension [00:mm:ss]",
                    color: "#000",
                    font: { family: fontFamily, size: 39.2 },
                    padding: { top: 0, bottom: 9 }
                }
            },
            y: {
                type: "linear",
                reverse: true,
                min: 10.35,
                max: 239.4,
                afterBuildTicks(s) {
                    s.ticks = yTicks.map(v => ({ value: v }));
                },
                beforeFit(s) {
                    s._calculatePadding = () => {};
                },
                afterFit(s) {
                    s.width = 170;
                },
                grid: { display: false, drawTicks: false },
                border: { display: false },
                ticks: {
                    autoSkip: false,
                    padding: 10,
                    color: "#000",
                    font: { family: fontFamily, size: 34 },
                    callback: v => yTickLabels[yTicks.indexOf(v)]
                },
                title: {
                    display: true,
                    text: "Declination [\u221272:mm:ss]",
                    color: "#000",
                    font: { family: fontFamily, size: 39 },
                    padding: { top: 8, bottom: 0 }
                }
            }
        }
    }
});
</script>
</body>
</html>
